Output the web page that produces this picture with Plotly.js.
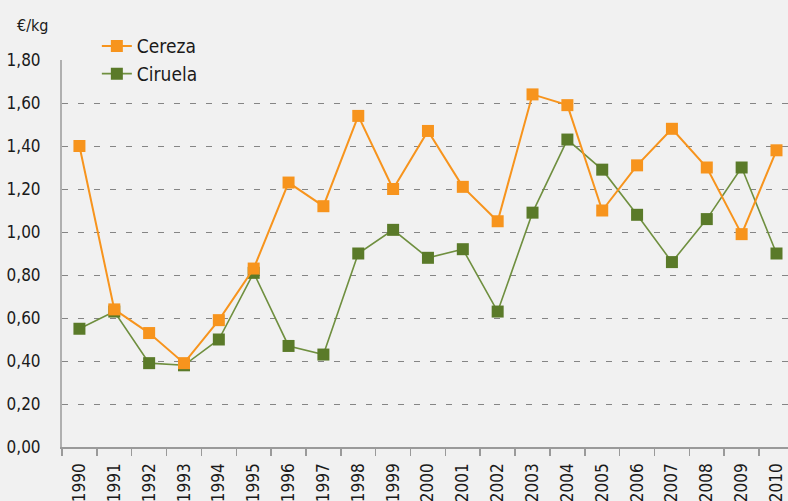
<!DOCTYPE html>
<html>
<head>
<meta charset="utf-8">
<script src="https://cdn.plot.ly/plotly-3.0.1.min.js"></script>
<style>
html,body{margin:0;padding:0;background:#f1f1f1;}
#chart{width:788px;height:501px;}
</style>
</head>
<body>
<div id="chart"></div>
<script>
const years = ["1990","1991","1992","1993","1994","1995","1996","1997","1998","1999","2000","2001","2002","2003","2004","2005","2006","2007","2008","2009","2010"];
const cereza = [1.40,0.64,0.53,0.39,0.59,0.83,1.23,1.12,1.54,1.20,1.47,1.21,1.05,1.64,1.59,1.10,1.31,1.48,1.30,0.99,1.38];
const ciruela = [0.55,0.63,0.39,0.38,0.50,0.81,0.47,0.43,0.90,1.01,0.88,0.92,0.63,1.09,1.43,1.29,1.08,0.86,1.06,1.30,0.90];
const yTicks = [0,0.2,0.4,0.6,0.8,1.0,1.2,1.4,1.6,1.8];
const unitLabel = "€/kg";

const FONT = "'Liberation Sans Narrow', 'DejaVu Sans Condensed', 'Arial Narrow', sans-serif";

const traces = [
  {
    x: years, y: ciruela, name: "Ciruela", type: "scatter", mode: "lines+markers",
    line: {color: "#6f8f3f", width: 1.6},
    marker: {symbol: "square", size: 12, color: "#5a7a29"}
  },
  {
    x: years, y: cereza, name: "Cereza", type: "scatter", mode: "lines+markers",
    line: {color: "#f7941d", width: 2},
    marker: {symbol: "square", size: 12, color: "#f7941d"}
  }
];

const layout = {
  width: 788, height: 501,
  paper_bgcolor: "#f1f1f1", plot_bgcolor: "#f1f1f1",
  margin: {l: 62, r: 0, t: 60, b: 54},
  separators: ",.",
  font: {family: FONT, size: 17, color: "#1a1a1a"},
  showlegend: true,
  legend: {
    x: 0.048, y: 1.085, xanchor: "left", yanchor: "top",
    bgcolor: "rgba(0,0,0,0)", font: {family: FONT, size: 19, color: "#1a1a1a"},
    traceorder: "reversed"
  },
  xaxis: {
    type: "category", range: [-0.5, 20.33],
    showgrid: false, zeroline: false,
    showline: true, linecolor: "#9a9a9a", linewidth: 1.5,
    ticks: "outside", tickson: "boundaries", ticklen: 7, tickcolor: "#9a9a9a", tickwidth: 1.5,
    ticklabelstandoff: 8,
    tickangle: -90, tickfont: {family: FONT, size: 17, color: "#1a1a1a"}
  },
  yaxis: {
    range: [0, 1.8], tickvals: yTicks, tickformat: ".2f",
    showgrid: true, gridcolor: "#858585", griddash: "6px,10px", gridwidth: 1,
    zeroline: false, showline: true, linecolor: "#b0b0b0", linewidth: 2,
    ticks: "outside", ticklen: 16, tickcolor: "rgba(0,0,0,0)",
    tickfont: {family: FONT, size: 17, color: "#1a1a1a"}
  },
  annotations: [{
    text: unitLabel, xref: "paper", yref: "paper", x: -0.065, y: 1.09,
    xanchor: "left", yanchor: "middle", showarrow: false,
    font: {family: FONT, size: 16, color: "#1a1a1a"}
  }]
};

Plotly.newPlot("chart", traces, layout, {displayModeBar: false, staticPlot: true});
</script>
</body>
</html>
